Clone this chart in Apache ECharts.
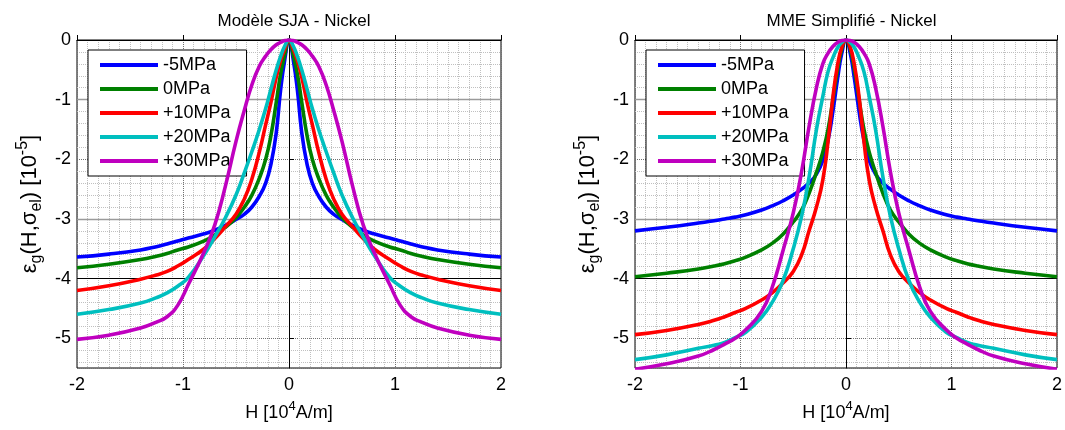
<!DOCTYPE html>
<html><head><meta charset="utf-8">
<script src="https://cdn.jsdelivr.net/npm/echarts@6/dist/echarts.min.js"></script>
<style>html,body{margin:0;padding:0;background:#fff}#c{width:1065px;height:430px}</style>
</head><body><div id="c"></div>
<script>
const titles = ['Modèle SJA - Nickel', 'MME Simplifié - Nickel'];
const seriesNames = ['-5MPa', '0MPa', '+10MPa', '+20MPa', '+30MPa'];
const xTicks = [-2, -1, 0, 1, 2];
const yTicks = [0, -1, -2, -3, -4, -5];
const solidGridValues = [-1, -3, -4];
// H values [10^4 A/m]
const H = [-2,-1.7,-1.4,-1.25,-1.15,-1.05,-0.95,-0.8,-0.7,-0.6,-0.5,-0.42,-0.35,-0.28,-0.22,-0.17,-0.12,-0.08,-0.04,0,
           0.04,0.08,0.12,0.17,0.22,0.28,0.35,0.42,0.5,0.6,0.7,0.8,0.95,1.05,1.15,1.25,1.4,1.7,2];
// Modèle SJA
const sjaM5 = [-3.64,-3.59,-3.52,-3.465,-3.42,-3.37,-3.32,-3.25,-3.19,-3.11,-3.01,-2.92,-2.8,-2.62,-2.4,-2.08,-1.55,-0.85,-0.33,0,-0.33,-0.85,-1.55,-2.08,-2.4,-2.62,-2.8,-2.92,-3.01,-3.11,-3.19,-3.25,-3.32,-3.37,-3.42,-3.465,-3.52,-3.59,-3.64];
const sja0  = [-3.82,-3.76,-3.68,-3.625,-3.58,-3.52,-3.47,-3.37,-3.27,-3.14,-2.98,-2.8,-2.6,-2.32,-2.0,-1.6,-1.04,-0.58,-0.25,0,-0.25,-0.58,-1.04,-1.6,-2.0,-2.32,-2.6,-2.8,-2.98,-3.14,-3.27,-3.37,-3.47,-3.52,-3.58,-3.625,-3.68,-3.76,-3.82];
const sja10 = [-4.2,-4.12,-4.01,-3.94,-3.88,-3.79,-3.68,-3.5,-3.33,-3.13,-2.92,-2.66,-2.33,-1.88,-1.42,-1.04,-0.62,-0.35,-0.15,0,-0.15,-0.35,-0.62,-1.04,-1.42,-1.88,-2.33,-2.66,-2.92,-3.13,-3.33,-3.5,-3.68,-3.79,-3.88,-3.94,-4.01,-4.12,-4.2];
const sja20 = [-4.6,-4.52,-4.41,-4.32,-4.24,-4.13,-3.98,-3.6,-3.3,-2.98,-2.6,-2.22,-1.87,-1.5,-1.15,-0.82,-0.5,-0.28,-0.1,0,-0.1,-0.28,-0.5,-0.82,-1.15,-1.5,-1.87,-2.22,-2.6,-2.98,-3.3,-3.6,-3.98,-4.13,-4.24,-4.32,-4.41,-4.52,-4.6];
const sja30 = [-5.02,-4.95,-4.83,-4.73,-4.64,-4.45,-4.1,-3.55,-3.1,-2.45,-1.7,-1.17,-0.75,-0.44,-0.27,-0.16,-0.08,-0.04,-0.01,0,-0.01,-0.04,-0.08,-0.16,-0.27,-0.44,-0.75,-1.17,-1.7,-2.45,-3.1,-3.55,-4.1,-4.45,-4.64,-4.73,-4.83,-4.95,-5.02];
// MME Simplifié
const mmeM5 = [-3.2,-3.14,-3.07,-3.03,-3.0,-2.97,-2.93,-2.85,-2.78,-2.7,-2.6,-2.5,-2.4,-2.25,-2.02,-1.68,-1.15,-0.65,-0.22,0,-0.22,-0.65,-1.15,-1.68,-2.02,-2.25,-2.4,-2.5,-2.6,-2.7,-2.78,-2.85,-2.93,-2.97,-3.0,-3.03,-3.07,-3.14,-3.2];
const mme0  = [-3.97,-3.91,-3.84,-3.79,-3.75,-3.7,-3.64,-3.52,-3.41,-3.26,-3.05,-2.85,-2.57,-2.22,-1.88,-1.5,-0.95,-0.5,-0.15,0,-0.15,-0.5,-0.95,-1.5,-1.88,-2.22,-2.57,-2.85,-3.05,-3.26,-3.41,-3.52,-3.64,-3.7,-3.75,-3.79,-3.84,-3.91,-3.97];
const mme10 = [-4.94,-4.87,-4.77,-4.7,-4.64,-4.57,-4.5,-4.36,-4.24,-4.08,-3.88,-3.6,-3.2,-2.8,-2.35,-1.7,-0.9,-0.42,-0.12,0,-0.12,-0.42,-0.9,-1.7,-2.35,-2.8,-3.2,-3.6,-3.88,-4.08,-4.24,-4.36,-4.5,-4.57,-4.64,-4.7,-4.77,-4.87,-4.94];
const mme20 = [-5.36,-5.28,-5.17,-5.12,-5.07,-4.99,-4.9,-4.65,-4.4,-4.05,-3.5,-2.95,-2.3,-1.5,-0.95,-0.53,-0.28,-0.13,-0.04,0,-0.04,-0.13,-0.28,-0.53,-0.95,-1.5,-2.3,-2.95,-3.5,-4.05,-4.4,-4.65,-4.9,-4.99,-5.07,-5.12,-5.17,-5.28,-5.36];
const mme30 = [-5.52,-5.43,-5.3,-5.19,-5.1,-5.0,-4.86,-4.55,-4.15,-3.55,-2.9,-2.2,-1.45,-0.8,-0.4,-0.22,-0.1,-0.04,-0.01,0,-0.01,-0.04,-0.1,-0.22,-0.4,-0.8,-1.45,-2.2,-2.9,-3.55,-4.15,-4.55,-4.86,-5.0,-5.1,-5.19,-5.3,-5.43,-5.52];

const plots = [[sjaM5, sja0, sja10, sja20, sja30], [mmeM5, mme0, mme10, mme20, mme30]];
const colors = ['#0000FF', '#008000', '#FF0000', '#00BFBF', '#BF00BF'];
const FONT = 'Liberation Sans, Arial, sans-serif';

const grids = [
  {left: 77, top: 40, width: 424, height: 328},
  {left: 635, top: 40, width: 423, height: 328}
];

const yName = '{n|ε}{s|g}{n|(H,σ}{s|el}{n|) [10}{p|-5}{n|]}';
const xName = '{n|H [10}{p|4}{n|A/m]}';
const richY = {
  n: {fontSize: 22, fontFamily: FONT, color: '#000', lineHeight: 30, verticalAlign: 'middle'},
  s: {fontSize: 16, fontFamily: FONT, color: '#000', lineHeight: 30, verticalAlign: 'bottom'},
  p: {fontSize: 16, fontFamily: FONT, color: '#000', lineHeight: 30, verticalAlign: 'top'}
};
const richX = {
  n: {fontSize: 18, fontFamily: FONT, color: '#000', lineHeight: 26, verticalAlign: 'middle'},
  p: {fontSize: 13, fontFamily: FONT, color: '#000', lineHeight: 26, verticalAlign: 'top'}
};

const xAxes = grids.map((g, i) => ({
  type: 'value', gridIndex: i, min: xTicks[0], max: xTicks[xTicks.length - 1], interval: 1,
  name: xName, nameLocation: 'middle', nameGap: 32, nameTextStyle: {rich: richX},
  axisLine: {show: true, lineStyle: {color: '#000', width: 1}},
  axisTick: {show: true, inside: true, length: 5, lineStyle: {color: '#000'}},
  axisLabel: {fontSize: 18, fontFamily: FONT, color: '#000', margin: 8},
  splitLine: {show: true, lineStyle: {type: 'dotted', color: '#707070', width: 1}},
  minorTick: {show: false, splitNumber: 10},
  minorSplitLine: {show: true, lineStyle: {type: 'dotted', color: '#c0c0c0', width: 1}}
}));
const yAxes = grids.map((g, i) => ({
  type: 'value', gridIndex: i, min: -5.5, max: yTicks[0], splitNumber: 6,
  name: yName, nameLocation: 'middle', nameGap: 32, nameRotate: 90, nameTextStyle: {rich: richY},
  axisLine: {show: true, lineStyle: {color: '#000', width: 1}},
  axisTick: {show: true, inside: true, length: 5, lineStyle: {color: '#000'}},
  axisLabel: {fontSize: 18, fontFamily: FONT, color: '#000', margin: 6, showMinLabel: false},
  splitLine: {show: true, lineStyle: {type: 'dotted', color: '#707070', width: 1}},
  minorTick: {show: false, splitNumber: 5},
  minorSplitLine: {show: true, lineStyle: {type: 'dotted', color: '#c0c0c0', width: 1}}
}));

const series = [];
plots.forEach((vals, p) => {
  vals.forEach((Y, k) => {
    const s = {
      type: 'line', name: seriesNames[k], xAxisIndex: p, yAxisIndex: p,
      data: H.map((h, j) => [h, Y[j]]), showSymbol: false, symbol: 'none', smooth: 0.5,
      lineStyle: {width: 3.6, color: colors[k]}, itemStyle: {color: colors[k]}, z: 3 + k
    };
    if (k === 0) {
      s.markLine = {
        silent: true, symbol: ['none', 'none'], label: {show: false}, z: 1,
        data: solidGridValues.map(v => ({yAxis: v, lineStyle: {type: 'solid', width: v === -4 ? 1 : 1.3, color: v === -4 ? '#000' : '#9a9a9a'}}))
      };
    }
    series.push(s);
  });
});

const legends = grids.map((g, i) => ({
  data: seriesNames, orient: 'vertical', left: g.left + 11, top: 50,
  icon: 'rect', itemWidth: 58, itemHeight: 4, itemGap: 6,
  padding: [6, 16, 6, 12], backgroundColor: '#fff', borderColor: '#000', borderWidth: 1, borderRadius: 0,
  textStyle: {fontSize: 18, fontFamily: FONT, color: '#000'}, selectedMode: false
}));

const option = {
  animation: false, backgroundColor: '#fff',
  title: titles.map((t, i) => ({
    text: t, left: grids[i].left + grids[i].width / 2, top: 8, textAlign: 'center',
    textStyle: {fontSize: 17, fontWeight: 'normal', fontFamily: FONT, color: '#000'}
  })),
  grid: grids.map(g => Object.assign({show: true, borderColor: '#000', borderWidth: 1, backgroundColor: 'transparent'}, g)),
  xAxis: xAxes, yAxis: yAxes, legend: legends, series
};
const chart = echarts.init(document.getElementById('c'), null, {renderer: 'canvas'});
chart.setOption(option);
</script></body></html>
